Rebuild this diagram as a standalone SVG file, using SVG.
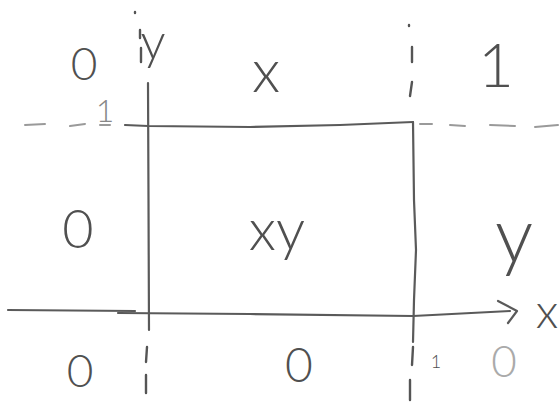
<svg xmlns="http://www.w3.org/2000/svg" width="560" height="413" viewBox="0 0 560 413">
<style>
.ln{fill:none;stroke:#5a5a5a;stroke-width:2.2;stroke-linecap:round;stroke-linejoin:round}
.dl{fill:none;stroke:#9a9a9a;stroke-width:2;stroke-linecap:round}
.dk{fill:none;stroke:#555;stroke-width:2.4;stroke-linecap:round}
.t{font-family:"Lato","Liberation Sans",sans-serif;font-weight:300;fill:#505050;text-anchor:middle}
.lt{fill:#aaa}
</style>
<rect width="560" height="413" fill="#fff"/>
<g id="connectors">
  <!-- y axis -->
  <path class="ln" d="M148,83 L148.5,200 L149,330"/>
  <path class="dk" d="M135,12 L135,13 M140,30 L140,38 M141,48 L141,62 M147,347 L146,362 M146,375 L146,393"/>
  <!-- top box line -->
  <path class="ln" d="M125,125 L148,126 L250,127 L340,125 L413,122"/>
  <path class="dl" d="M25,125 L45,124 M70,126 L85,124 M100,125 L110,125 M420,124 L432,124 M450,125 L465,126 M490,125 L515,126 M535,127 L558,125"/>
  <!-- right vertical line -->
  <path class="ln" d="M413,122 L414,200 L416,250 L414,300 L413,342"/>
  <path class="dk" d="M409,25 L409,26 M412,47 L412,62 M412,82 L410,96 M413,347 L412,365 M410,380 L410,400"/>
  <!-- x axis -->
  <path class="ln" d="M8,310 L135,311 M118,313 L250,314 L413,316 L510,311"/>
  <path class="ln" d="M498,301 L517,311 L508,323"/>
</g>
<g id="labels">
  <text class="t" x="84" y="80" font-size="46">0</text>
  <text class="t" x="153" y="59" font-size="50">y</text>
  <text class="t" x="266" y="92" font-size="60">x</text>
  <text class="t" x="496" y="87" font-size="62">1</text>
  <text class="t" x="78" y="248" font-size="54">0</text>
  <text class="t" x="277" y="250" font-size="58">xy</text>
  <text class="t" x="514" y="262" font-size="76">y</text>
  <text class="t" x="80" y="387" font-size="46">0</text>
  <text class="t" x="299" y="382" font-size="48">0</text>
  <text class="t lt" x="504" y="377" font-size="44">0</text>
  <text class="t" x="547" y="328" font-size="48">x</text>
  <text class="t" x="105" y="122" font-size="32" fill="#888" style="fill:#888">1</text>
  <text class="t" x="436" y="368" font-size="18">1</text>
</g>
</svg>
